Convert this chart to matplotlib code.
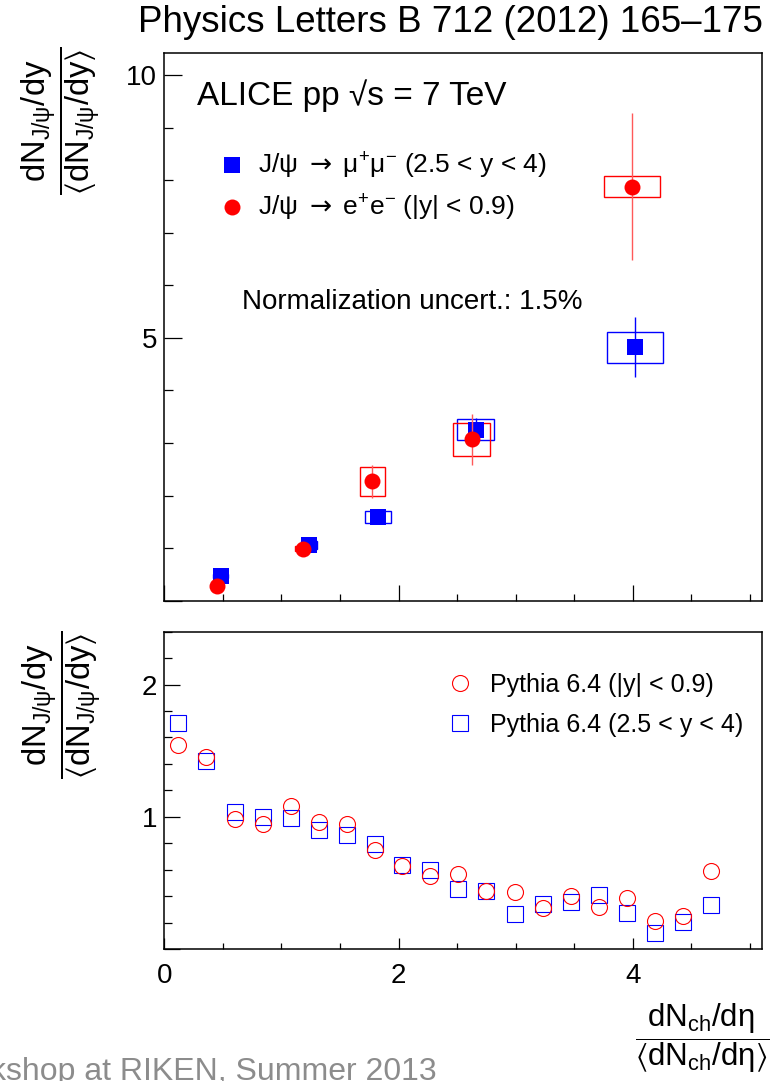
import matplotlib
matplotlib.use("Agg")
import matplotlib.pyplot as plt
import matplotlib.patches as patches
from matplotlib.lines import Line2D
from matplotlib.ticker import MultipleLocator, FuncFormatter

plt.rcParams['font.family'] = ['Liberation Sans', 'DejaVu Sans']
plt.rcParams['mathtext.fontset'] = 'custom'
plt.rcParams['mathtext.rm'] = 'Liberation Sans'
plt.rcParams['mathtext.it'] = 'Liberation Sans'
plt.rcParams['mathtext.bf'] = 'Liberation Sans:bold'
plt.rcParams['mathtext.sf'] = 'DejaVu Sans'
plt.rcParams['mathtext.default'] = 'regular'

# ALICE J/psi yield vs multiplicity, pp 7 TeV
mu_x = [0.48, 1.234, 1.825, 2.658, 4.017]
mu_y = [0.47, 1.06, 1.59, 3.25, 4.82]
mu_stat = [0.04, 0.08, 0.14, 0.22, 0.57]
mu_sys_x = [0.06, 0.07, 0.11, 0.16, 0.24]
mu_sys_y = [0.03, 0.07, 0.12, 0.20, 0.29]

ee_x = [0.447, 1.186, 1.777, 2.624, 3.995]
ee_y = [0.28, 0.99, 2.27, 3.07, 7.88]
ee_stat = [0.05, 0.11, 0.32, 0.49, 1.40]
ee_sys_x = [0.05, 0.07, 0.105, 0.16, 0.24]
ee_sys_y = [0.03, 0.05, 0.275, 0.31, 0.20]

# Pythia 6.4 predictions
pyt_x = [0.12, 0.36, 0.60, 0.84, 1.08, 1.32, 1.56, 1.80, 2.03, 2.27,
         2.51, 2.75, 2.99, 3.23, 3.47, 3.71, 3.95, 4.19, 4.43, 4.67]
pyt_mid = [1.545, 1.454, 0.98, 0.942, 1.085, 0.96, 0.942, 0.746, 0.625, 0.55,
           0.565, 0.437, 0.432, 0.307, 0.40, 0.314, 0.382, 0.213, 0.249, 0.59]
pyt_fwd = [1.713, 1.422, 1.04, 1.002, 0.992, 0.902, 0.864, 0.794, 0.635, 0.60,
           0.452, 0.44, 0.261, 0.339, 0.352, 0.407, 0.274, 0.118, 0.206, 0.332]

W, H = 773, 1081
fig = plt.figure(figsize=(W / 100, H / 100), dpi=100)


def box(l, t, r, b):
    return [l / W, 1 - b / H, (r - l) / W, (b - t) / H]


ax1 = fig.add_axes(box(164.3, 53, 761.7, 600.7))
ax2 = fig.add_axes(box(164.3, 631.7, 761.7, 949))

red_bar = (1.0, 0.35, 0.35)

# systematic boxes
for x, y, dx, dy in zip(mu_x, mu_y, mu_sys_x, mu_sys_y):
    ax1.add_patch(patches.Rectangle((x - dx, y - dy), 2 * dx, 2 * dy, fill=False,
                                    edgecolor='blue', lw=1.0, zorder=2))
for x, y, dx, dy in zip(ee_x, ee_y, ee_sys_x, ee_sys_y):
    ax1.add_patch(patches.Rectangle((x - dx, y - dy), 2 * dx, 2 * dy, fill=False,
                                    edgecolor='red', lw=1.0, zorder=3))

ax1.errorbar(mu_x, mu_y, yerr=mu_stat, fmt='s', color='blue', ms=11, mew=0,
             elinewidth=1.0, capsize=2, capthick=1.0, zorder=4)
ax1.errorbar(ee_x, ee_y, yerr=ee_stat, fmt='o', color='red', ecolor=red_bar, ms=11.5,
             mew=0, elinewidth=1.0, capsize=2, capthick=1.0, zorder=5)

ax2.plot(pyt_x, pyt_mid, 'o', mfc='none', mec='red', ms=11.5, mew=0.8, zorder=4)
ax2.plot(pyt_x, pyt_fwd, 's', mfc='none', mec='blue', ms=11.5, mew=0.8, zorder=3)

ax1.set_xlim(0, 5.1)
ax1.set_ylim(0, 10.42)
ax2.set_xlim(0, 5.1)
ax2.set_ylim(0, 2.4)

# y axes carry no label at zero
no_zero = FuncFormatter(lambda v, p: '' if abs(v) < 1e-9 else '%g' % v)

for ax in (ax1, ax2):
    ax.xaxis.set_major_locator(MultipleLocator(2))
    ax.xaxis.set_minor_locator(MultipleLocator(0.5))
    ax.yaxis.set_major_formatter(no_zero)
    for s in ax.spines.values():
        s.set_linewidth(1.1)
    ax.tick_params(which='both', direction='in', top=False, right=False,
                   width=0.9, labelsize=20)

ax1.yaxis.set_major_locator(MultipleLocator(5))
ax1.yaxis.set_minor_locator(MultipleLocator(1))
ax2.yaxis.set_major_locator(MultipleLocator(1))
ax2.yaxis.set_minor_locator(MultipleLocator(0.2))

ax1.tick_params(axis='y', which='major', length=13, pad=5)
ax1.tick_params(axis='y', which='minor', length=6.5)
ax1.tick_params(axis='x', which='major', length=11.5)
ax1.tick_params(axis='x', which='minor', length=5)
ax1.tick_params(axis='x', labelbottom=False)
ax2.tick_params(axis='y', which='major', length=11.5, pad=5)
ax2.tick_params(axis='y', which='minor', length=5.5)
ax2.tick_params(axis='x', which='major', length=7.7, pad=10)
ax2.tick_params(axis='x', which='minor', length=4)

# texts
fig.text(763 / W, 1 - 22 / H, 'Physics Letters B 712 (2012) 165\u2013175',
         ha='right', va='center', fontsize=26.5)
fig.text(196.7 / W, 1 - 96 / H, 'ALICE pp \u221as = 7 TeV', ha='left', va='center',
         fontsize=24)
fig.text(241.7 / W, 1 - 301.7 / H, 'Normalization uncert.: 1.5%', ha='left',
         va='center', fontsize=20)

ylab = r'$\dfrac{dN_{J/\psi}/dy}{\langle dN_{J/\psi}/dy\rangle}$'
fig.text(61 / W, 1 - 121 / H, ylab, rotation=90, ha='center', va='center', fontsize=23.5)
fig.text(62 / W, 1 - 705 / H, ylab, rotation=90, ha='center', va='center', fontsize=23.5)
xlab = r'$\dfrac{dN_{ch}/d\eta}{\langle dN_{ch}/d\eta\rangle}$'
fig.text(702 / W, 1 - 1038 / H, xlab, ha='center', va='center', fontsize=22.5)

fig.text(437 / W, 1 - 1080 / H, 'kshop at RIKEN, Summer 2013', ha='right',
         va='baseline', fontsize=23, color='#8c8c8c')

# legends
h_mu = Line2D([], [], ls='none', marker='s', color='blue', ms=11, mew=0)
h_ee = Line2D([], [], ls='none', marker='o', color='red', ms=11.5, mew=0)
ax1.legend([h_mu, h_ee],
           [r'J/$\psi$ $\mathsf{\rightarrow}$ $\mu^{+}\mu^{-}$ (2.5 < y < 4)',
            r'J/$\psi$ $\mathsf{\rightarrow}$ e$^{+}$e$^{-}$ (|y| < 0.9)'],
           loc='upper left', bbox_to_anchor=((219.5 - 164.3) / 597.4, (600.7 - 151) / 547.7),
           frameon=False, fontsize=19, borderpad=0, borderaxespad=0,
           handlelength=0.95, handletextpad=0.5, labelspacing=0.45)

h_c = Line2D([], [], ls='none', marker='o', mfc='none', mec='red', ms=11.5, mew=0.8)
h_s = Line2D([], [], ls='none', marker='s', mfc='none', mec='blue', ms=11.5, mew=0.8)
ax2.legend([h_c, h_s], ['Pythia 6.4 (|y| < 0.9)', 'Pythia 6.4 (2.5 < y < 4)'],
           loc='upper left', bbox_to_anchor=((447.5 - 164.3) / 597.4, (949 - 673) / 317.3),
           frameon=False, fontsize=18, borderpad=0, borderaxespad=0,
           handlelength=1.0, handletextpad=0.7, labelspacing=0.62)

fig.savefig('out.png', dpi=100)
